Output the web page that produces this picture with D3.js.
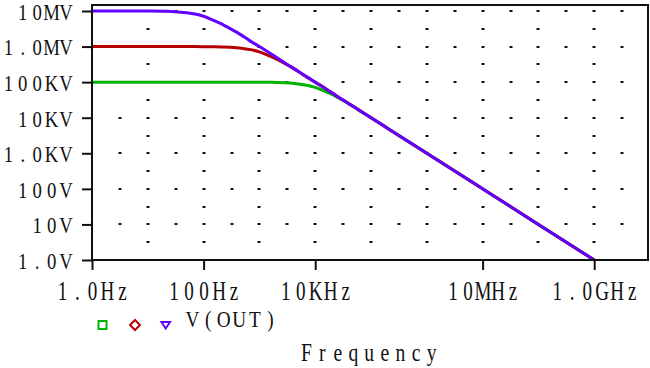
<!DOCTYPE html>
<html>
<head>
<meta charset="utf-8">
<script src="https://cdn.jsdelivr.net/npm/d3@7"></script>
<style>
  html, body { margin: 0; padding: 0; background: #fff; }
  svg { display: block; }
  text { font-family: "Liberation Serif", "DejaVu Serif", serif; fill: #111; }
</style>
</head>
<body>
<svg id="chart" width="650" height="368"></svg>
<script>
// ---- data ----
const freq = [1, 10, 20, 30, 50, 70, 100, 150, 200, 300, 500, 700, 1e3, 1.5e3, 2e3, 3e3, 5e3, 7e3, 1e4, 1.5e4, 2e4, 3e4, 5e4, 7e4, 1e5, 2e5, 1e6, 1e7, 1e8, 1e9];
const vPurple = [1e7, 9.95e6, 9.8e6, 9.6e6, 8.9e6, 8.2e6, 7.1e6, 5.5e6, 4.5e6, 3.2e6, 2.0e6, 1.4e6, 1.0e6, 6.7e5, 5.0e5, 3.3e5, 2.0e5, 1.43e5, 1.0e5, 6.7e4, 5.0e4, 3.3e4, 2.0e4, 1.43e4, 1.0e4, 5.0e3, 1.0e3, 100, 10, 1];
const vRed = [1e6, 1e6, 1e6, 1e6, 1e6, 1e6, 9.95e5, 9.9e5, 9.8e5, 9.6e5, 8.9e5, 8.2e5, 7.1e5, 5.5e5, 4.5e5, 3.2e5, 2.0e5, 1.4e5, 1.0e5, 6.7e4, 5.0e4, 3.3e4, 2.0e4, 1.43e4, 1.0e4, 5.0e3, 1.0e3, 100, 10, 1];
const vGreen = [1e5, 1e5, 1e5, 1e5, 1e5, 1e5, 1e5, 1e5, 1e5, 1e5, 1e5, 1e5, 9.95e4, 9.9e4, 9.8e4, 9.6e4, 8.9e4, 8.2e4, 7.1e4, 5.5e4, 4.5e4, 3.2e4, 2.0e4, 1.4e4, 1.0e4, 5.0e3, 1.0e3, 100, 10, 1];

const xTickValues = [1, 100, 1e4, 1e7, 1e9];
const xTickLabels = ["1.0Hz", "100Hz", "10KHz", "10MHz", "1.0GHz"];
const yTickValues = [1, 10, 100, 1e3, 1e4, 1e5, 1e6, 1e7];
const yTickLabels = ["1.0V", "10V", "100V", "1.0KV", "10KV", "100KV", "1.0MV", "10MV"];
const legendLabel = "V(OUT)";
const xTitle = "Frequency";

// ---- layout ----
const svg = d3.select("#chart");
const pLeft = 92, pRight = 648, pTop = 5, pBottom = 260;
const x = d3.scaleLog().domain([1, 1e9]).range([92, 594.2]);
const y = d3.scaleLog().domain([1, 1e7]).range([260, 11]);

const cGreen = "#00b400", cRed = "#b40000", cPurple = "#6400ff";

// place each glyph of a string in fixed-width cells (single text element)
function monoText(textSel, str, firstCenter, adv, baseline, fs, sx) {
  const xs = d3.range(str.length).map(i => ((firstCenter + i * adv) / sx).toFixed(2));
  textSel
    .attr("x", xs.join(" "))
    .attr("y", baseline)
    .attr("dy", 0)
    .attr("text-anchor", "middle")
    .attr("transform", `scale(${sx},1)`)
    .style("font-size", fs + "px")
    .style("font-family", "'Liberation Serif', serif")
    .attr("fill", "#111")
    .text(str);
}

// grid dots
const gridG = svg.append("g");
const decadesX = d3.range(0, 10).map(e => Math.pow(10, e));
const halfX = d3.range(0, 10).map(e => Math.pow(10, e + 0.5));
const decadesY = d3.range(1, 8).map(e => Math.pow(10, e));
const halfY = d3.range(0, 7).map(e => Math.pow(10, e + 0.5));
const dots = [];
decadesY.forEach(v => {
  decadesX.concat(halfX).forEach(f => { if (x(f) > pLeft + 3 && x(f) < pRight - 3) dots.push([x(f), y(v)]); });
});
halfY.forEach(v => {
  decadesX.forEach(f => { if (x(f) > pLeft + 3 && x(f) < pRight - 3) dots.push([x(f), y(v)]); });
});
gridG.selectAll("rect").data(dots).enter().append("rect")
  .attr("x", d => Math.round(d[0]) - 1.5).attr("y", d => Math.round(d[1]) - 1)
  .attr("width", 3).attr("height", 2).attr("fill", "#111");

// series
const line = d3.line().x(d => x(d[0])).y(d => y(d[1])).curve(d3.curveMonotoneX);
[[vGreen, cGreen], [vRed, cRed], [vPurple, cPurple]].forEach(([vals, col]) => {
  svg.append("path")
    .datum(freq.map((f, i) => [f, vals[i]]))
    .attr("d", line)
    .attr("fill", "none")
    .attr("stroke", col)
    .attr("stroke-width", 3)
    .attr("stroke-linejoin", "round");
});

// frame
svg.append("rect")
  .attr("x", pLeft).attr("y", pTop)
  .attr("width", pRight - pLeft).attr("height", pBottom - pTop)
  .attr("fill", "none").attr("stroke", "#111").attr("stroke-width", 2);

// y axis
const yAxis = svg.append("g").attr("transform", `translate(${pLeft},0)`)
  .call(d3.axisLeft(y).tickValues(yTickValues)
    .tickFormat((d, i) => yTickLabels[i]).tickSize(10).tickPadding(0));
yAxis.select(".domain").remove();
yAxis.selectAll(".tick line").attr("stroke", "#111").attr("stroke-width", 2);
yAxis.selectAll(".tick text").each(function (d, i) {
  const s = yTickLabels[i];
  const adv = 14.4, lastCenter = -26;
  monoText(d3.select(this), s, lastCenter - (s.length - 1) * adv, adv, 8.3, 24, 0.78);
});

// x axis
const xAxis = svg.append("g").attr("transform", `translate(0,${pBottom})`)
  .call(d3.axisBottom(x).tickValues(xTickValues)
    .tickFormat((d, i) => xTickLabels[i]).tickSize(10).tickPadding(0));
xAxis.select(".domain").remove();
xAxis.selectAll(".tick line").attr("stroke", "#111").attr("stroke-width", 2);
xAxis.selectAll(".tick text").each(function (d, i) {
  const s = xTickLabels[i];
  const adv = 15;
  monoText(d3.select(this), s, -(s.length - 1) / 2 * adv, adv, 39.7, 26.5, 0.72);
});

// legend
const lg = svg.append("g");
lg.append("rect").attr("x", 98.5).attr("y", 321).attr("width", 8).attr("height", 8)
  .attr("fill", "none").attr("stroke", cGreen).attr("stroke-width", 2);
lg.append("path").attr("d", "M135,320 L140,325 L135,330 L130,325 Z")
  .attr("fill", "none").attr("stroke", cRed).attr("stroke-width", 2);
lg.append("path").attr("d", "M161.5,322 L170,322 L165.7,328.5 Z")
  .attr("fill", "none").attr("stroke", cPurple).attr("stroke-width", 2);
monoText(lg.append("text"), legendLabel, 192.5, 15.6, 327.5, 24, 0.8);

// x title
monoText(svg.append("text"), xTitle, 306.5, 15.65, 361.3, 24.5, 0.8);
</script>
</body>
</html>
